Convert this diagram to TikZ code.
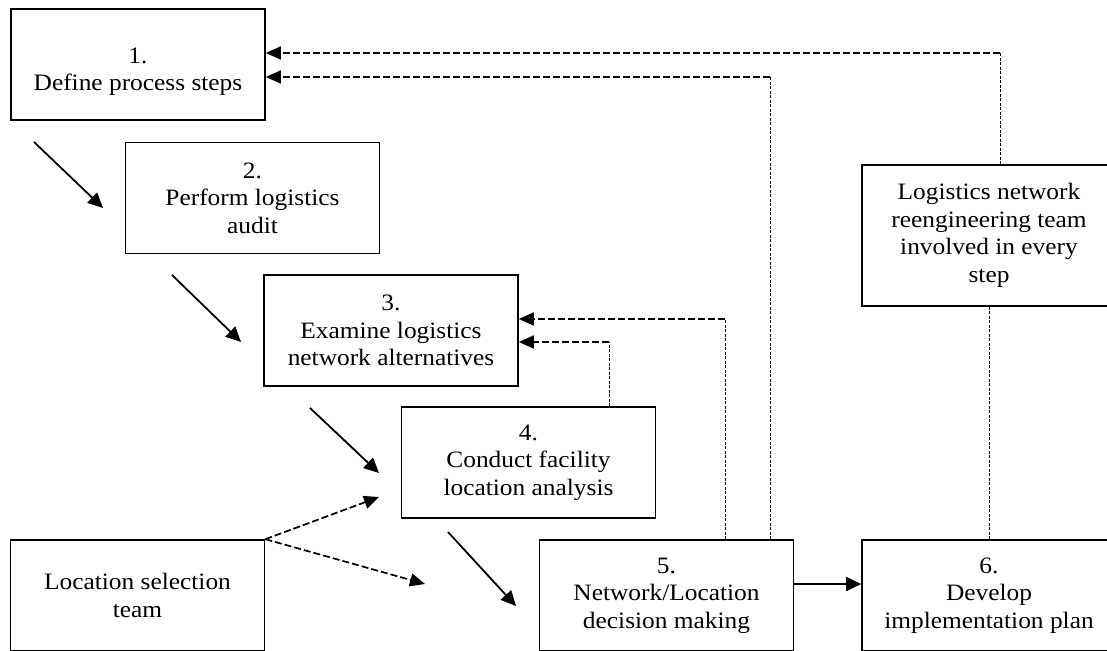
\documentclass[tikz,border=0pt]{standalone}
\usepackage{fontspec}
\setmainfont{Liberation Serif}[FakeStretch=1.08]
\usetikzlibrary{arrows.meta}
\begin{document}
\begin{tikzpicture}[x=1pt,y=-1pt]
\tikzset{
 boxtext/.style={align=center, font=\fontsize{23.5}{27.5}\selectfont, inner sep=0pt},
 box/.style={boxtext, draw, line width=1.6pt, minimum width=254pt, minimum height=111pt},
 flow/.style={line width=1.8pt, -{Triangle[length=15pt,width=14pt]}},
 feed/.style={line width=1.7pt, dash pattern=on 7pt off 3pt, -{Triangle[length=15pt,width=13pt]}},
 link/.style={line width=0.7pt, dash pattern=on 3pt off 1.5pt},
}
\clip (0,0) rectangle (1107,650);
\fill[white] (0,0) rectangle (1107,650);

\node[box] (b1) at (138,64.5) {};
\node[boxtext] (b1t) at ([yshift=-7pt]b1.center) {1.\\Define process steps};
\node[box] (b2) at (252.5,198) {2.\\Perform logistics\\audit};
\node[box] (b3) at (391,330.5) {3.\\Examine logistics\\network alternatives};
\node[box] (b4) at (528.5,462.5) {4.\\Conduct facility\\location analysis};
\node[box] (loc) at (137.5,595.5) {Location selection\\team};
\node[box] (b5) at (666.5,595.5) {5.\\Network/Location\\decision making};
\node[box] (b6) at (989,595.5) {6.\\Develop\\implementation plan};
\node[box, minimum height=141pt] (team) at (989,235.5) {Logistics network\\reengineering team\\involved in every\\step};

% feedback connectors
\coordinate (t1) at (1000,53);
\coordinate (t2) at (770,77);
\coordinate (t3) at (725,319);
\coordinate (t4) at (609,342);
\draw[link] (team.north -| t1) -- (t1);
\draw[feed] (t1) -- (t1 -| b1.east);
\draw[link] (b5.north -| t2) -- (t2);
\draw[feed] (t2) -- (t2 -| b1.east);
\draw[link] (b5.north -| t3) -- (t3);
\draw[feed] (t3) -- (t3 -| b3.east);
\draw[link] (b4.north -| t4) -- (t4);
\draw[feed] (t4) -- (t4 -| b3.east);
\draw[link] (team.south) -- (b6.north);

% location team
\coordinate (e1) at (379,497);
\coordinate (e2) at (425,584);
\draw[feed] (loc.north east) -- (e1);
\draw[feed] (loc.north east) -- (e2);

% flow arrows
\coordinate (a1s) at (34,142); \coordinate (a1e) at (103,208);
\coordinate (a2s) at (172,275); \coordinate (a2e) at (241,342);
\coordinate (a3s) at (310,408); \coordinate (a3e) at (379,473);
\coordinate (a4s) at (448,532); \coordinate (a4e) at (516,606);
\draw[flow] (a1s) -- (a1e);
\draw[flow] (a2s) -- (a2e);
\draw[flow] (a3s) -- (a3e);
\draw[flow] (a4s) -- (a4e);
\draw[flow] ([yshift=11.5pt]b5.east) -- ([yshift=11.5pt]b6.west);
\end{tikzpicture}
\end{document}
